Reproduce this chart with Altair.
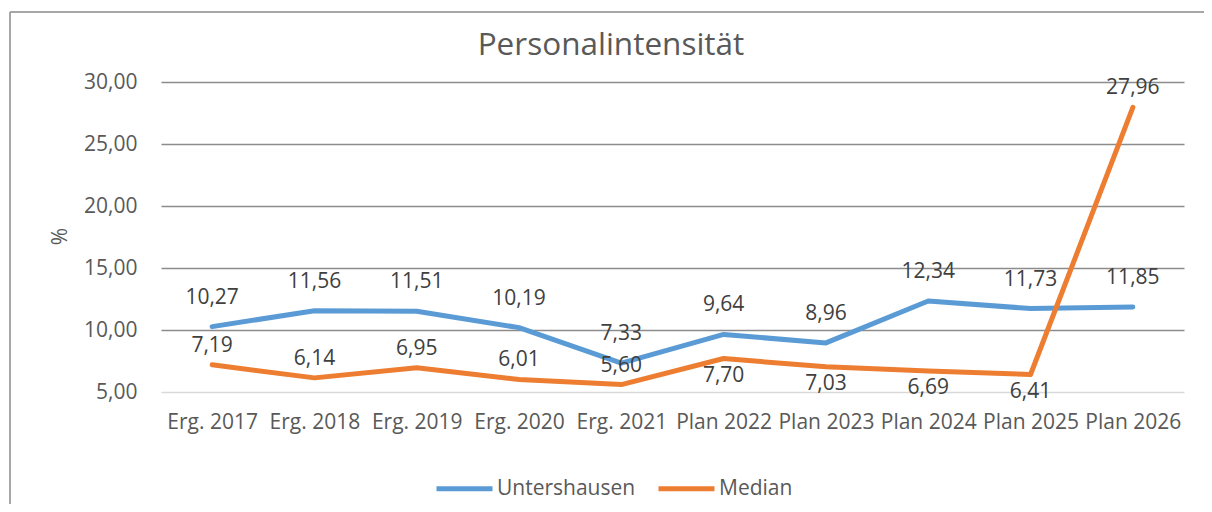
import altair as alt
import pandas as pd

categories = ["Erg. 2017", "Erg. 2018", "Erg. 2019", "Erg. 2020", "Erg. 2021",
              "Plan 2022", "Plan 2023", "Plan 2024", "Plan 2025", "Plan 2026"]
untershausen = [10.27, 11.56, 11.51, 10.19, 7.33, 9.64, 8.96, 12.34, 11.73, 11.85]
median = [7.19, 6.14, 6.95, 6.01, 5.60, 7.70, 7.03, 6.69, 6.41, 27.96]
series_names = ["Untershausen", "Median"]
colors = ["#5B9BD5", "#ED7D31"]
y_ticks = [5, 10, 15, 20, 25, 30]

rows = []
for name, vals in zip(series_names, [untershausen, median]):
    for c, v in zip(categories, vals):
        rows.append({"cat": c, "series": name, "value": v,
                     "label": f"{v:.2f}".replace(".", ",")})
df = pd.DataFrame(rows)

FONT = "Open Sans"
W, H = 1023, 310

x_enc = alt.X("cat:O", sort=categories, scale=alt.Scale(padding=0.5),
              axis=alt.Axis(title=None, labelAngle=0, ticks=False, domain=False,
                            labelFont=FONT, labelFontSize=21, labelColor="#595959",
                            labelBaseline="middle", labelPadding=30))
y_enc = alt.Y("value:Q", scale=alt.Scale(domain=[5, 30], nice=False, zero=False),
              axis=alt.Axis(title="%", values=y_ticks, ticks=False, domain=False,
                            labelExpr="replace(format(datum.value, '.2f'), '.', ',')",
                            labelFont=FONT, labelFontSize=21, labelColor="#595959",
                            labelPadding=24,
                            titleFont=FONT, titleFontSize=21, titleColor="#595959",
                            titleFontWeight="normal", titleAngle=-90,
                            titleX=-101, titleY=154, titleAlign="center",
                            titleBaseline="middle",
                            grid=True,
                            gridColor={"condition": {"test": "datum.value === 5", "value": "#d9d9d9"},
                                       "value": "#8c8c8c"},
                            gridWidth=1.5))

base = alt.Chart(df)

frame_data = alt.Data(values=[{"a": 1}])
border_left = alt.Chart(frame_data).mark_rule(stroke="#8a8a8a", strokeWidth=1.5).encode(
    x=alt.value(-151), y=alt.value(-70), y2=alt.value(440))
border_top = alt.Chart(frame_data).mark_rule(stroke="#8a8a8a", strokeWidth=1.5).encode(
    x=alt.value(-151), x2=alt.value(1043), y=alt.value(-70))

lines = base.mark_line(strokeWidth=5, strokeCap="round", strokeJoin="round").encode(
    x=x_enc, y=y_enc,
    color=alt.Color("series:N",
                    scale=alt.Scale(domain=series_names, range=colors),
                    legend=alt.Legend(title=None, orient="none", legendX=273, legendY=376,
                                      direction="horizontal", symbolType="stroke",
                                      symbolSize=3136, symbolStrokeWidth=5,
                                      labelFont=FONT, labelFontSize=21, labelColor="#595959",
                                      labelOffset=2, columnPadding=12, padding=0)),
    detail="series:N",
)

txt_kw = dict(font=FONT, fontSize=21, color="#404040", baseline="middle", align="center")

lab_blue = base.transform_filter(alt.datum.series == "Untershausen").mark_text(dy=-29, **txt_kw).encode(
    x=alt.X("cat:O", sort=categories), y="value:Q", text="label:N")
lab_org_above = base.transform_filter(
    "datum.series === 'Median' && (indexof(datum.cat, 'Erg') === 0 || datum.cat === 'Plan 2026')"
).mark_text(dy=-19, **txt_kw).encode(x=alt.X("cat:O", sort=categories), y="value:Q", text="label:N")
lab_org_below = base.transform_filter(
    "datum.series === 'Median' && indexof(datum.cat, 'Plan') === 0 && datum.cat !== 'Plan 2026'"
).mark_text(dy=17, **txt_kw).encode(x=alt.X("cat:O", sort=categories), y="value:Q", text="label:N")

chart = alt.layer(border_left, border_top, lines, lab_blue, lab_org_above, lab_org_below).properties(
    width=W, height=H,
    title=alt.TitleParams("Personalintensität", font=FONT, fontSize=31.5, color="#595959",
                          fontWeight="normal", anchor="middle", frame="group",
                          dx=-61.5, dy=75, offset=0, baseline="alphabetic"),
    autosize=alt.AutoSizeParams(type="none"),
    padding={"left": 153, "top": 74, "right": 20, "bottom": 112},
    background="white",
).configure_view(stroke=None)

chart.save("out.html", embed_options={"renderer": "svg", "actions": False})
